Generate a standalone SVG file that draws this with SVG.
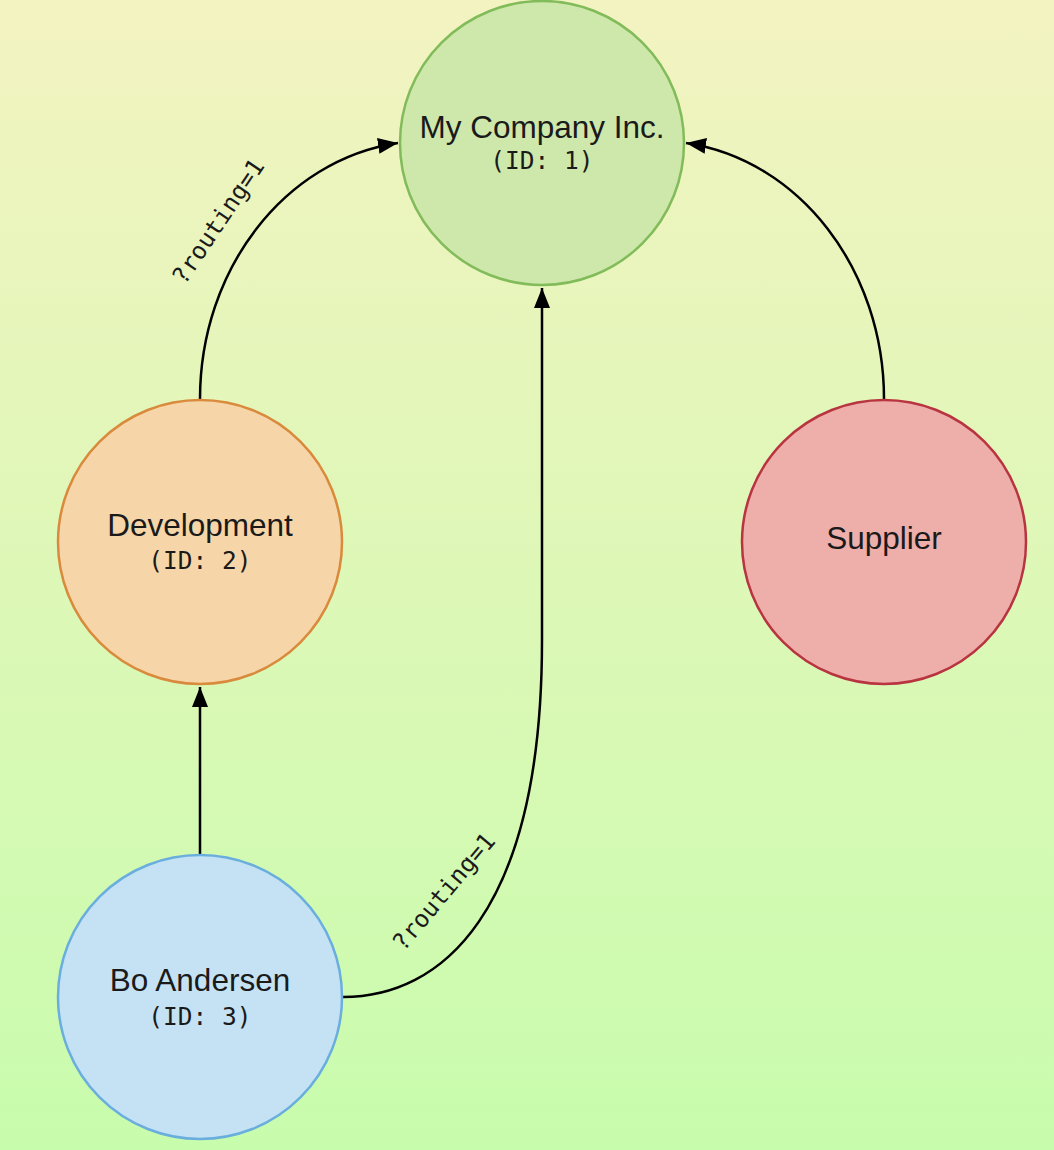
<svg xmlns="http://www.w3.org/2000/svg" width="1054" height="1150" viewBox="0 0 1054 1150">
<defs>
<linearGradient id="bg" x1="0" y1="0" x2="0" y2="1">
<stop offset="0" stop-color="#f3f3c1"/>
<stop offset="1" stop-color="#c8fcad"/>
</linearGradient>
<marker id="arr" viewBox="0 0 20 16" refX="20" refY="8" markerWidth="20" markerHeight="16" markerUnits="userSpaceOnUse" orient="auto">
<path d="M0,0 L20,8 L0,16 Z" fill="#000"/>
</marker>
<style>
.title{font-family:"Liberation Sans",Arial,sans-serif;font-size:31.5px;fill:#1a1a1a;text-anchor:middle}
.id{font-family:"DejaVu Sans Mono","Liberation Mono",monospace;font-size:24.5px;fill:#1a1a1a;text-anchor:middle}
.lbl{font-family:"DejaVu Sans Mono","Liberation Mono",monospace;font-size:24px;fill:#1a1a1a;text-anchor:middle}
.edge{fill:none;stroke:#000;stroke-width:2.5;marker-end:url(#arr)}
</style>
</defs>
<rect width="1054" height="1150" fill="url(#bg)"/>
<g id="connectors">
<path class="edge" d="M200,399 C200,270 284,160 398,143"/>
<path class="edge" d="M884,399 C884,270 800,160 686,143"/>
<path class="edge" d="M343,997 C440,997 542,915 542,640 L542,288"/>
<path class="edge" d="M200,855 L200,687"/>
<text class="lbl" transform="translate(225,226) rotate(-56)">?routing=1</text>
<text class="lbl" transform="translate(450,897) rotate(-50)">?routing=1</text>
</g>
<g id="node-company">
<circle cx="542" cy="143" r="142" fill="#cde8aa" stroke="#82bb5a" stroke-width="2.5"/>
<text class="title" x="542" y="138">My Company Inc.</text>
<text class="id" x="542" y="169">(ID: 1)</text>
</g>
<g id="node-development">
<circle cx="200" cy="542" r="142" fill="#f6d6a8" stroke="#d98a3c" stroke-width="2.5"/>
<text class="title" x="200" y="536">Development</text>
<text class="id" x="200" y="569">(ID: 2)</text>
</g>
<g id="node-supplier">
<circle cx="884" cy="542" r="142" fill="#eeaeaa" stroke="#b83440" stroke-width="2.5"/>
<text class="title" x="884" y="549">Supplier</text>
</g>
<g id="node-bo">
<circle cx="200" cy="997" r="142" fill="#c5e2f4" stroke="#6aaede" stroke-width="2.5"/>
<text class="title" x="200" y="991">Bo Andersen</text>
<text class="id" x="200" y="1025">(ID: 3)</text>
</g>
</svg>
